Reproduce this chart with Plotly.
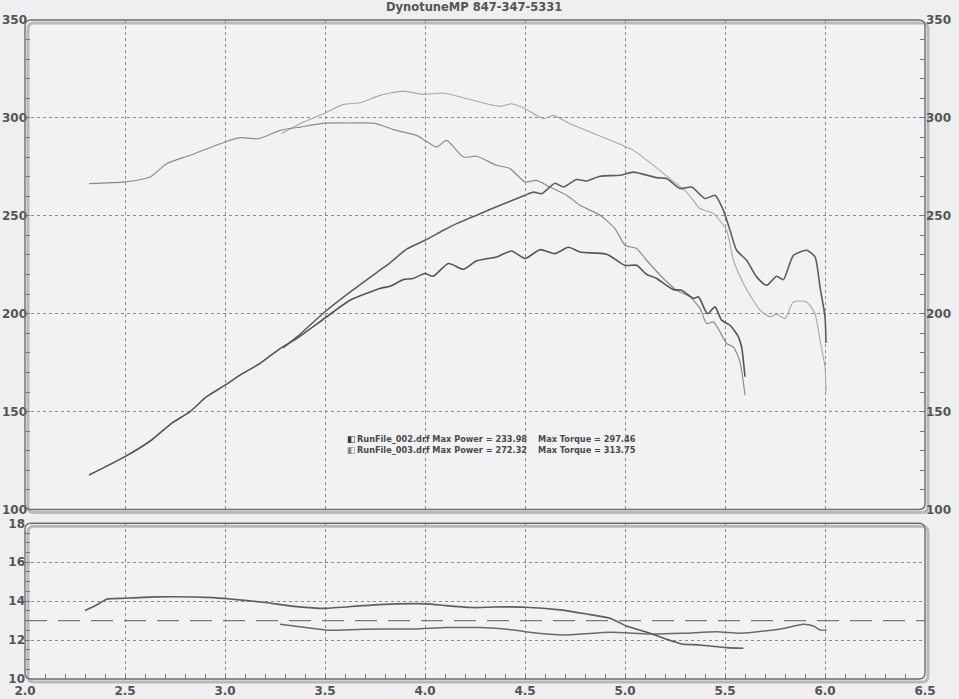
import plotly.graph_objects as go

# ---------------- data ----------------
p002_rpm = [2.32, 2.5, 2.633, 2.733, 2.825, 2.908, 3.0, 3.075, 3.175, 3.275, 3.358, 3.5, 3.625,
            3.775, 3.825, 3.892, 3.94, 4.0, 4.04, 4.117, 4.192, 4.258, 4.358, 4.433, 4.5, 4.575,
            4.65, 4.717, 4.775, 4.908, 5.0, 5.058, 5.108, 5.158, 5.242, 5.283, 5.342, 5.367,
            5.412, 5.45, 5.483, 5.525, 5.567, 5.583, 5.6]
p002_hp = [117.6, 127, 135.5, 144, 150, 157.6, 163.5, 168.6, 174.6, 182.2, 187.3, 197.8, 206.9,
           212.9, 214, 217.4, 218, 220.5, 219.1, 225.6, 222.7, 227, 229, 232, 228.2, 232.7,
           230.7, 233.9, 231.5, 230.4, 224.7, 224.7, 220.1, 218, 212.3, 212, 207.8, 208.6,
           200, 203.5, 196.7, 194.1, 188.2, 183, 167.8]

t002_rpm = [2.32, 2.5, 2.625, 2.708, 2.825, 3.0, 3.075, 3.167, 3.275, 3.375, 3.5, 3.608, 3.75,
            3.842, 3.958, 4.0, 4.058, 4.108, 4.192, 4.258, 4.358, 4.425, 4.5, 4.558, 4.625,
            4.708, 4.775, 4.875, 4.95, 5.0, 5.058, 5.108, 5.192, 5.258, 5.325, 5.375, 5.408,
            5.442, 5.475, 5.508, 5.542, 5.575, 5.6]
t002_tq = [266.4, 267.3, 269.8, 276.6, 280.9, 287.7, 289.9, 289.4, 293.6, 295.3, 297.3, 297.4,
           297.2, 294, 291.1, 288.5, 285.1, 288.5, 280, 280.4, 275.8, 274.1, 267.3, 268.1, 264.7,
           260.5, 255.4, 250.3, 243.5, 235, 233.3, 227.3, 218, 212, 208.6, 202.7, 195,
           195.8, 190.7, 184.8, 183, 175.4, 158.4]

p003_rpm = [3.29, 3.358, 3.5, 3.625, 3.758, 3.825, 3.908, 4.0, 4.092, 4.158, 4.275, 4.392, 4.5,
            4.542, 4.583, 4.65, 4.692, 4.758, 4.808, 4.875, 4.975, 5.042, 5.158, 5.208, 5.275,
            5.333, 5.4, 5.45, 5.492, 5.525, 5.558, 5.608, 5.658, 5.708, 5.758, 5.792, 5.842,
            5.908, 5.95, 5.975, 6.0, 6.005]
p003_hp = [182.5, 188, 201, 211, 221, 226, 233, 237.5, 242.6, 246, 251.1, 256, 260.5,
           262.1, 261.3, 266.6, 264.7, 268.5, 267.8, 270.2, 270.7, 272.3, 269.5, 269, 263.9,
           264.7, 258.8, 260.5, 252.8, 242.6, 232.4, 227.3, 218.8, 214.5, 219.1, 217.4, 229.8,
           232.4, 229, 213.7, 198.4, 185]

t003_rpm = [3.283, 3.375, 3.492, 3.592, 3.675, 3.775, 3.892, 3.992, 4.092, 4.225, 4.375, 4.433,
            4.5, 4.592, 4.642, 4.725, 4.825, 4.93, 5.042, 5.225, 5.308, 5.375, 5.442, 5.508,
            5.542, 5.592, 5.675, 5.725, 5.758, 5.8, 5.842, 5.908, 5.95, 5.975, 6.0, 6.005]
t003_tq = [292, 297, 302.1, 306.9, 307.7, 311.5, 313.7, 312, 312.7, 309.4, 305.9, 307.2,
           304.7, 299.6, 301.3, 297, 292.8, 288.5, 283.4, 269, 262.1, 253.7, 251.1, 242.6,
           227.3, 215.4, 201.8, 198.4, 199.7, 197.5, 206, 206, 200, 186.5, 172.9, 160]

afr002_rpm = [2.3, 2.358, 2.408, 2.5, 2.658, 2.942, 3.025, 3.192, 3.358, 3.5, 3.692, 3.858, 4.008,
              4.108, 4.242, 4.342, 4.5, 4.675, 4.808, 4.925, 5.008, 5.125, 5.208, 5.283, 5.375,
              5.508, 5.592]
afr002 = [13.52, 13.8, 14.1, 14.15, 14.22, 14.18, 14.11, 13.94, 13.72, 13.63, 13.77, 13.86, 13.86,
          13.77, 13.67, 13.7, 13.69, 13.55, 13.34, 13.12, 12.72, 12.35, 12.04, 11.8, 11.75,
          11.61, 11.58]

afr003_rpm = [3.275, 3.442, 3.525, 3.692, 3.942, 4.108, 4.275, 4.442, 4.5, 4.708, 4.925, 5.125,
              5.292, 5.458, 5.575, 5.708, 5.792, 5.892, 5.942, 5.975, 6.008]
afr003 = [12.81, 12.6, 12.5, 12.56, 12.57, 12.64, 12.64, 12.52, 12.43, 12.26, 12.4, 12.31,
          12.35, 12.43, 12.35, 12.48, 12.6, 12.81, 12.72, 12.52, 12.52]

target_rpm = [2.0, 6.5]
target_afr = [13.0, 13.0]

legend_lines = [
    ("RunFile_002.drf Max Power = 233.98", "Max Torque = 297.46"),
    ("RunFile_003.drf Max Power = 272.32", "Max Torque = 313.75"),
]
title_text = "DynotuneMP 847-347-5331"

# ---------------- figure ----------------
W, H = 959, 699
ML, MR, MT, MB = 25, 34, 20, 20
PW, PH = W - ML - MR, H - MT - MB
upper_dom = [(679 - 509.5) / PH, 1.0]
lower_dom = [0.0, (679 - 523.3) / PH]

FONT = "DejaVu Sans"
TXT = "#555555"
GRID = "#8a8a8a"

fig = go.Figure()

def line(x, y, color, width, yaxis="y", xaxis="x", dash=None, smooth=0.6):
    fig.add_trace(go.Scatter(
        x=x, y=y, mode="lines", xaxis=xaxis, yaxis=yaxis, showlegend=False,
        line=dict(color=color, width=width, shape="spline", smoothing=smooth, dash=dash),
        hoverinfo="skip"))

line(t003_rpm, t003_tq, "#a8a8a8", 1.1)
line(t002_rpm, t002_tq, "#8c8c8c", 1.2)
line(p003_rpm, p003_hp, "#5e5e5e", 1.6)
line(p002_rpm, p002_hp, "#555555", 1.6)

fig.add_trace(go.Scatter(x=target_rpm, y=target_afr, mode="lines", xaxis="x2", yaxis="y2",
                         showlegend=False, hoverinfo="skip",
                         line=dict(color="#7a7a7a", width=1.3, dash="22px,11px")))
line(afr003_rpm, afr003, "#6a6a6a", 1.5, yaxis="y2", xaxis="x2")
line(afr002_rpm, afr002, "#5e5e5e", 1.6, yaxis="y2", xaxis="x2")

tickfont = dict(family=FONT, size=12, color=TXT, weight="bold")

fig.update_layout(
    width=W, height=H,
    margin=dict(l=ML, r=MR, t=MT, b=MB, autoexpand=False),
    paper_bgcolor="#efeef0",
    plot_bgcolor="#f2f1f3",
    font=dict(family=FONT, color=TXT),
    xaxis=dict(domain=[0, 1], anchor="y", range=[2.0, 6.5], dtick=0.5, showticklabels=False,
               showgrid=True, gridcolor=GRID, griddash="dot", gridwidth=1, zeroline=False,
               ticks="", automargin=False),
    yaxis=dict(domain=upper_dom, anchor="x", range=[100, 350], dtick=50, tick0=100,
               showgrid=True, gridcolor=GRID, griddash="dot", gridwidth=1, zeroline=False,
               ticks="inside", ticklen=5, tickcolor="#777", tickfont=tickfont, automargin=False,
               ticklabelstandoff=-3,
               minor=dict(dtick=10, ticks="inside", ticklen=5, tickcolor="#777", showgrid=False)),
    yaxis3=dict(overlaying="y", anchor="x", side="right", range=[100, 350], dtick=50, tick0=100,
                showgrid=False, zeroline=False, ticks="inside", ticklen=5, tickcolor="#777",
                tickfont=tickfont, automargin=False,
                minor=dict(dtick=10, ticks="inside", ticklen=5, tickcolor="#777")),
    xaxis2=dict(domain=[0, 1], anchor="y2", range=[2.0, 6.5], dtick=0.5, tick0=2.0,
                tickformat=".1f", showgrid=True, gridcolor=GRID, griddash="dot", zeroline=False,
                ticks="inside", ticklen=5, tickcolor="#777", tickfont=tickfont, automargin=False,
                ticklabelstandoff=3,
                minor=dict(dtick=0.1, ticks="inside", ticklen=5, tickcolor="#777", showgrid=False)),
    yaxis2=dict(domain=lower_dom, anchor="x2", range=[10, 18], dtick=2, tick0=10,
                showgrid=True, gridcolor=GRID, griddash="dot", zeroline=False,
                ticks="inside", ticklen=5, tickcolor="#777", tickfont=tickfont, automargin=False,
                ticklabelstandoff=-1,
                minor=dict(dtick=0.5, ticks="inside", ticklen=5, tickcolor="#777", showgrid=False)),
)
# dummy trace to activate yaxis3
fig.add_trace(go.Scatter(x=[None], y=[None], xaxis="x", yaxis="y3", showlegend=False))

# panel frames with rounded corners and shadow
def rounded_path(x0, y0, x1, y1, rpx=6):
    rx, ry = rpx / PW, rpx / PH
    return (f"M {x0+rx} {y1} L {x1-rx} {y1} Q {x1} {y1} {x1} {y1-ry} "
            f"L {x1} {y0+ry} Q {x1} {y0} {x1-rx} {y0} L {x0+rx} {y0} "
            f"Q {x0} {y0} {x0} {y0+ry} L {x0} {y1-ry} Q {x0} {y1} {x0+rx} {y1} Z")

shapes = []
for (b, t) in (upper_dom, lower_dom):
    dx, dy = 3 / PW, 3 / PH
    shapes.append(dict(type="path", xref="paper", yref="paper", layer="below",
                       path=rounded_path(0 + dx, b - dy, 1 + dx, t - dy),
                       line=dict(color="#b9b9b9", width=3), fillcolor="rgba(0,0,0,0)"))
    shapes.append(dict(type="path", xref="paper", yref="paper", layer="above",
                       path=rounded_path(0, b, 1, t),
                       line=dict(color="#6e6e6e", width=1.4), fillcolor="rgba(0,0,0,0)"))
fig.update_layout(shapes=shapes)

ann = []
ann.append(dict(text=title_text, xref="paper", yref="paper", x=(474 - ML) / PW,
                y=1 + (MT - 7) / PH, xanchor="center", yanchor="middle", showarrow=False,
                font=dict(family=FONT, size=11.5, color=TXT, weight="bold")))
leg_font = dict(family=FONT, size=8.2, color="#4a4a4a", weight="bold")
icon_colors = ["#3c3c3c", "#8a8a8a"]
for i, (a, b) in enumerate(legend_lines):
    ypx = 439 + i * 11
    yv = 1 - (ypx - MT) / PH
    ann.append(dict(text="◧", xref="paper", yref="paper", x=(345 - ML) / PW, y=yv,
                    xanchor="left", yanchor="middle", showarrow=False,
                    font=dict(family=FONT, size=9, color=icon_colors[i])))
    ann.append(dict(text=a, xref="paper", yref="paper", x=(355 - ML) / PW, y=yv,
                    xanchor="left", yanchor="middle", showarrow=False, font=leg_font))
    ann.append(dict(text=b, xref="paper", yref="paper", x=(536 - ML) / PW, y=yv,
                    xanchor="left", yanchor="middle", showarrow=False, font=leg_font))
fig.update_layout(annotations=ann)

fig.write_html("out.html")
